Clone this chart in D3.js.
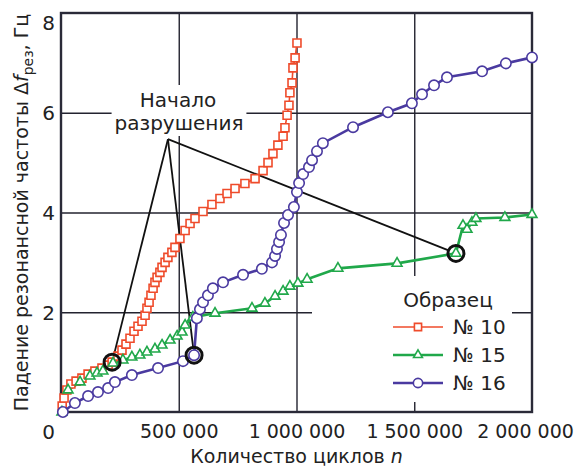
<!DOCTYPE html>
<html>
<head>
<meta charset="utf-8">
<script src="https://cdn.jsdelivr.net/npm/d3@7"></script>
<style>
  body { margin: 0; background: #fff; }
  svg text { font-family: 'DejaVu Sans', sans-serif; fill: #222; }
</style>
</head>
<body>
<script>
// ticks
var xTicks = [500000, 1000000, 1500000, 2000000];
var yTicks = [2, 4, 6, 8];

// specimen No 10 (red squares)
var n10 = [5000, 13000, 25000, 42000, 64000, 89000, 115000, 144000, 174000, 200000, 217000,
  242000, 259000, 276000, 293000, 310000, 327000, 344000, 357000, 365000, 374000, 382000,
  391000, 399000, 408000, 420000, 429000, 442000, 454000, 471000, 484000, 505000, 527000,
  548000, 569000, 603000, 641000, 675000, 705000, 739000, 781000, 824000, 858000, 879000,
  900000, 921000, 943000, 951000, 960000, 968000, 972000, 981000, 985000, 994000, 1002000];
var df10 = [0.12, 0.28, 0.44, 0.56, 0.62, 0.68, 0.76, 0.82, 0.88, 0.94, 1.0,
  1.12, 1.24, 1.36, 1.48, 1.62, 1.72, 1.82, 1.94, 2.08, 2.2, 2.34,
  2.48, 2.6, 2.7, 2.8, 2.9, 3.0, 3.1, 3.2, 3.3, 3.48, 3.64,
  3.78, 3.88, 4.02, 4.16, 4.28, 4.38, 4.48, 4.58, 4.68, 4.84, 5.0,
  5.18, 5.35, 5.53, 5.7, 5.95, 6.15, 6.4, 6.6, 6.9, 7.1, 7.4];

// specimen No 15 (green triangles)
var n15 = [4000, 30000, 81000, 123000, 153000, 178000, 221000, 263000, 301000, 335000,
  365000, 399000, 429000, 463000, 493000, 514000, 527000, 560000, 654000, 811000,
  866000, 909000, 943000, 972000, 1006000, 1045000, 1176000, 1427000, 1677000, 1707000,
  1724000, 1745000, 1762000, 1885000, 2000000];
var df15 = [0, 0.44, 0.60, 0.72, 0.78, 0.82, 0.98, 1.04, 1.10, 1.14,
  1.20, 1.26, 1.34, 1.44, 1.52, 1.60, 1.74, 1.90, 1.98, 2.08,
  2.18, 2.32, 2.42, 2.52, 2.58, 2.66, 2.88, 2.98, 3.18, 3.74,
  3.66, 3.80, 3.88, 3.90, 3.96];

// specimen No 16 (purple circles)
var n16 = [8000, 59000, 115000, 157000, 200000, 229000, 301000, 412000, 518000, 565000,
  577000, 590000, 603000, 624000, 645000, 688000, 773000, 853000, 896000, 909000,
  917000, 926000, 934000, 947000, 964000, 989000, 1002000, 1011000, 1028000, 1053000,
  1066000, 1087000, 1112000, 1240000, 1388000, 1490000, 1533000, 1584000, 1639000, 1788000,
  1889000, 2000000];
var df16 = [0, 0.18, 0.32, 0.40, 0.48, 0.60, 0.74, 0.88, 1.02, 1.14,
  1.88, 2.06, 2.20, 2.34, 2.48, 2.60, 2.75, 2.87, 3.0, 3.13,
  3.27, 3.41, 3.55, 3.79, 3.95, 4.11, 4.41, 4.59, 4.77, 4.91,
  5.05, 5.23, 5.39, 5.71, 6.01, 6.19, 6.37, 6.55, 6.71, 6.83,
  6.99, 7.11];

// start of failure points, and where the callout lines meet
var failN = [217000, 565000, 1677000];
var failDf = [1.0, 1.14, 3.18];
var noteN = 454000;
var noteDf = 5.47;

var names = ['№ 10', '№ 15', '№ 16'];
var colors = ['#ef4b2b', '#20a84a', '#4a3aa0'];

/* ===== frame and scales ===== */

var w = 579;
var h = 468;

var svg = d3.select('body').append('svg')
  .attr('width', w)
  .attr('height', h);

var xScale = d3.scaleLinear().domain([0, 2000000]).range([61, 532]);
var yScale = d3.scaleLinear().domain([0, 8]).range([412, 13]);

var ru = d3.formatLocale({ decimal: ',', thousands: '\u00a0', grouping: [3], currency: ['', ''] });
var fmt = ru.format(',');

/* ===== grid ===== */

svg.append('g')
  .attr('transform', 'translate(0,' + yScale(0) + ')')
  .call(d3.axisBottom(xScale).tickValues(xTicks.slice(0, -1)).tickSize(-(yScale(0) - yScale(8))).tickFormat(''))
  .call(function(g) { g.select('.domain').remove(); })
  .selectAll('line').attr('stroke', '#23232f').attr('stroke-width', 1.4);

svg.append('g')
  .attr('transform', 'translate(' + xScale(0) + ',0)')
  .call(d3.axisLeft(yScale).tickValues(yTicks.slice(0, -1)).tickSize(-(xScale(2000000) - xScale(0))).tickFormat(''))
  .call(function(g) { g.select('.domain').remove(); })
  .selectAll('line').attr('stroke', '#23232f').attr('stroke-width', 1.4);

/* ===== tick labels ===== */

var xLab = svg.append('g')
  .attr('transform', 'translate(0,' + yScale(0) + ')')
  .call(d3.axisBottom(xScale).tickValues(xTicks).tickSize(0).tickPadding(13).tickFormat(fmt));
xLab.select('.domain').remove();
xLab.selectAll('text').style('font-size', '19px').attr('fill', '#222')
  .attr('dx', function(d) { return d === 2000000 ? -7 : 0; });

var yLab = svg.append('g')
  .attr('transform', 'translate(' + xScale(0) + ',0)')
  .call(d3.axisLeft(yScale).tickValues(yTicks).tickSize(0).tickPadding(6));
yLab.select('.domain').remove();
yLab.selectAll('text').style('font-size', '20px').attr('fill', '#222')
  .attr('dy', function(d) { return d === 8 ? '0.82em' : '0.36em'; });

svg.append('text')
  .attr('x', xScale(0) - 6)
  .attr('y', yScale(0) + 20)
  .attr('dy', '0.36em')
  .attr('text-anchor', 'end')
  .style('font-size', '20px')
  .text('0');

/* ===== axis titles ===== */

var xTitle = svg.append('text')
  .attr('x', (xScale(0) + xScale(2000000)) / 2)
  .attr('y', 463)
  .attr('text-anchor', 'middle')
  .style('font-size', '19px');
xTitle.append('tspan').text('Количество циклов ');
xTitle.append('tspan').style('font-style', 'italic').text('n');

var yTitle = svg.append('text')
  .attr('transform', 'translate(28,' + ((yScale(0) + yScale(8)) / 2) + ') rotate(-90)')
  .attr('text-anchor', 'middle')
  .style('font-size', '19px');
yTitle.append('tspan').text('Падение резонансной частоты Δ');
yTitle.append('tspan').style('font-style', 'italic').text('f');
yTitle.append('tspan').attr('dy', 5).style('font-size', '14px').text('рез');
yTitle.append('tspan').attr('dy', -5).text(', Гц');

/* ===== annotation ===== */

var noteBox = svg.append('rect').attr('fill', '#fff');
var note = svg.append('g').style('font-size', '20px').attr('text-anchor', 'middle');
note.append('text').attr('x', 178).attr('y', 107).text('Начало');
note.append('text').attr('x', 179).attr('y', 130).text('разрушения');
var bb = note.node().getBBox();
noteBox.attr('x', bb.x - 3).attr('y', bb.y - 3).attr('width', bb.width + 6).attr('height', bb.height + 4);

var ax = xScale(noteN);
var ay = yScale(noteDf);
failN.forEach(function(n, i) {
  var px = xScale(n);
  var py = yScale(failDf[i]);
  var dx = px - ax;
  var dy = py - ay;
  var len = Math.sqrt(dx * dx + dy * dy);
  svg.append('line')
    .attr('x1', ax).attr('y1', ay)
    .attr('x2', px - dx / len * 8).attr('y2', py - dy / len * 8)
    .attr('stroke', '#111')
    .attr('stroke-width', 1.8);
});

/* ===== legend background ===== */

svg.append('rect')
  .attr('x', 312).attr('y', 276)
  .attr('width', 200).attr('height', 126)
  .attr('fill', '#fff');

/* ===== frame ===== */

svg.append('rect')
  .attr('x', xScale(0)).attr('y', yScale(8))
  .attr('width', xScale(2000000) - xScale(0))
  .attr('height', yScale(0) - yScale(8))
  .attr('fill', 'none')
  .attr('stroke', '#2a2a38')
  .attr('stroke-width', 2.4);

/* ===== series ===== */

var line = d3.line()
  .x(function(d) { return xScale(d[0]); })
  .y(function(d) { return yScale(d[1]); });

var series = [
  { pts: d3.zip(n10, df10), color: colors[0], width: 1.6, shape: d3.symbolSquare, size: 64 },
  { pts: d3.zip(n15, df15), color: colors[1], width: 2.6, shape: d3.symbolTriangle, size: 42 },
  { pts: d3.zip(n16, df16), color: colors[2], width: 2.6, shape: d3.symbolCircle, size: 85 }
];

series.forEach(function(s) {
  svg.append('path')
    .datum(s.pts)
    .attr('d', line)
    .attr('fill', 'none')
    .attr('stroke', s.color)
    .attr('stroke-width', s.width);
});

series.forEach(function(s) {
  svg.append('g').selectAll('path')
    .data(s.pts)
    .enter()
    .append('path')
    .attr('transform', function(d) { return 'translate(' + xScale(d[0]) + ',' + yScale(d[1]) + ')'; })
    .attr('d', d3.symbol().type(s.shape).size(s.size))
    .attr('fill', '#fff')
    .attr('stroke', s.color)
    .attr('stroke-width', 1.6);
});

/* ===== failure rings ===== */

svg.append('g').selectAll('circle')
  .data(d3.zip(failN, failDf))
  .enter()
  .append('circle')
  .attr('cx', function(d) { return xScale(d[0]); })
  .attr('cy', function(d) { return yScale(d[1]); })
  .attr('r', 8)
  .attr('fill', 'none')
  .attr('stroke', '#111')
  .attr('stroke-width', 3);

/* ===== legend ===== */

var legend = svg.append('g');
legend.append('text')
  .attr('x', 448).attr('y', 307)
  .attr('text-anchor', 'middle')
  .style('font-size', '20px')
  .text('Образец');

series.forEach(function(s, i) {
  var ly = 327 + i * 28;
  legend.append('line')
    .attr('x1', 393).attr('x2', 443)
    .attr('y1', ly).attr('y2', ly)
    .attr('stroke', s.color)
    .attr('stroke-width', s.width);
  legend.append('path')
    .attr('transform', 'translate(418,' + ly + ')')
    .attr('d', d3.symbol().type(s.shape).size(s.size * 0.8))
    .attr('fill', '#fff')
    .attr('stroke', s.color)
    .attr('stroke-width', 1.6);
  legend.append('text')
    .attr('x', 453).attr('y', ly)
    .attr('dy', '0.36em')
    .style('font-size', '20px')
    .text(names[i]);
});
</script>
</body>
</html>
